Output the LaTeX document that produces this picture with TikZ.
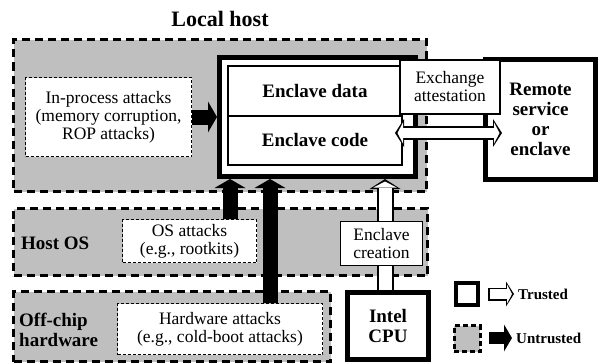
\documentclass[tikz,border=0pt]{standalone}
\usepackage{fontspec}
\setmainfont{Liberation Serif}
\usetikzlibrary{arrows.meta}

\begin{document}
\begin{tikzpicture}[x=1pt,y=-1pt,
    font=\fontsize{17.5}{18}\selectfont,
    every node/.style={inner sep=0pt,align=center},
    zone/.style={draw,fill=black!25,line width=3pt,dash pattern=on 8pt off 5pt},
    zonetext/.style={font=\fontsize{19}{20}\selectfont\bfseries},
    attack/.style={draw,fill=white,line width=1.3pt,dash pattern=on 3pt off 2pt},
    trusted/.style={draw,fill=white,line width=5pt,font=\fontsize{19}{20}\selectfont\bfseries},
    part/.style={draw,fill=white,line width=2pt,font=\fontsize{19}{20}\selectfont\bfseries},
    plainbox/.style={draw,fill=white,line width=1.5pt},
    untrust/.style={line width=15pt,-{Triangle[length=9pt,width=31pt,line width=0pt]}},
    trustout/.style={line width=17pt,-{Triangle[length=10pt,width=31pt,line width=0pt]}},
    trustin/.style={white,line width=13pt,shorten >=2.5pt,-{Triangle[length=6pt,width=23pt,line width=0pt]}}]
  \useasboundingbox (0,0) rectangle (600,364);
  % zones
  \node[zone,minimum width=413pt,minimum height=152pt] (local) at (220,115.5) {};
  \node[font=\fontsize{22}{24}\selectfont\bfseries] (localtxt) at (220,19) {Local host};
  \node[zone,minimum width=414pt,minimum height=67pt] (hostos) at (220.5,242) {};
  \node[zonetext,anchor=west] (hosttxt) at (21,243) {Host OS};
  \node[zone,minimum width=317pt,minimum height=70pt] (offchip) at (172,326.5) {};
  \node[zonetext,anchor=west,align=left] (offtxt) at (19,330) {Off-chip\\hardware};
  % attacks
  \node[attack,minimum width=166pt,minimum height=79pt] (inproc) at (108.5,117) {In-process attacks\\(memory corruption,\\ROP attacks)};
  \node[attack,minimum width=134pt,minimum height=43pt] (osatk) at (189.5,241) {OS attacks\\(e.g., rootkits)};
  \node[attack,minimum width=205pt,minimum height=51pt] (hwatk) at (220,329) {Hardware attacks\\(e.g., cold-boot attacks)};
  % enclave
  \node[trusted,minimum width=196pt,minimum height=119pt] (encl) at (317.5,117) {};
  \node[part,minimum width=174pt,minimum height=50pt] (data) at (315,91) {Enclave data};
  \node[part,minimum width=174pt,minimum height=49pt] (code) at (315,140.5) {Enclave code};
  \node[trusted,minimum width=110pt,minimum height=120pt] (remote) at (540.5,119.5) {Remote\\service\\or\\enclave};
  \node[trusted,minimum width=81pt,minimum height=67pt] (cpu) at (388,326) {Intel\\CPU};
  \node[plainbox,minimum width=82pt,minimum height=44pt] (create) at (381.5,243.5) {Enclave\\creation};
  % attack arrows
  \draw[untrust] (inproc.east) -- (encl.west);
  \draw[untrust] (osatk.north -| 230,0) -- (encl.south -| 230,0);
  \draw[untrust] (hwatk.north -| 270,0) -- (encl.south -| 270,0);
  % enclave creation
  \draw[line width=17pt] (cpu.north -| 385,0) -- (create.south -| 385,0);
  \draw[white,line width=13pt] (cpu.north -| 385,0) -- (create.south -| 385,0);
  \draw[trustout] (create.north -| 385,0) -- (encl.south -| 385,0);
  \draw[trustin] (create.north -| 385,0) -- (encl.south -| 385,0);
  % attestation
  \coordinate (xl) at (395,133);
  \coordinate (xr) at (502,133);
  \draw[line width=14pt,{Triangle[length=9pt,width=28pt,line width=0pt]}-{Triangle[length=9pt,width=28pt,line width=0pt]}] (xl) -- (xr);
  \draw[white,line width=10.5pt,shorten <=2.5pt,shorten >=2.5pt,{Triangle[length=5.5pt,width=21pt,line width=0pt]}-{Triangle[length=5.5pt,width=21pt,line width=0pt]}] (xl) -- (xr);
  \node[plainbox,minimum width=100pt,minimum height=54pt] (exch) at (450,87) {Exchange\\attestation};
  % legend
  \node[draw,fill=white,line width=4pt,minimum size=22pt] (keyt) at (466.5,294) {};
  \node[zone,dash pattern=on 5pt off 3pt,minimum size=26pt] (keyu) at (467,338.5) {};
  \coordinate (kta) at (488,294);
  \coordinate (ktb) at (514,294);
  \draw[line width=13pt,-{Triangle[length=8pt,width=25pt,line width=0pt]}] (kta) -- (ktb);
  \draw[white,line width=9.5pt,shorten <=1.75pt,shorten >=2pt,-{Triangle[length=5pt,width=19pt,line width=0pt]}] (kta) -- (ktb);
  \coordinate (kua) at (489,338);
  \coordinate (kub) at (512,338);
  \draw[line width=12pt,-{Triangle[length=8pt,width=27pt,line width=0pt]}] (kua) -- (kub);
  \node[font=\fontsize{15}{15}\selectfont\bfseries,anchor=west] (ktxt) at (518,294) {Trusted};
  \node[font=\fontsize{15}{15}\selectfont\bfseries,anchor=west] (kutxt) at (516,338) {Untrusted};
\end{tikzpicture}
\end{document}
